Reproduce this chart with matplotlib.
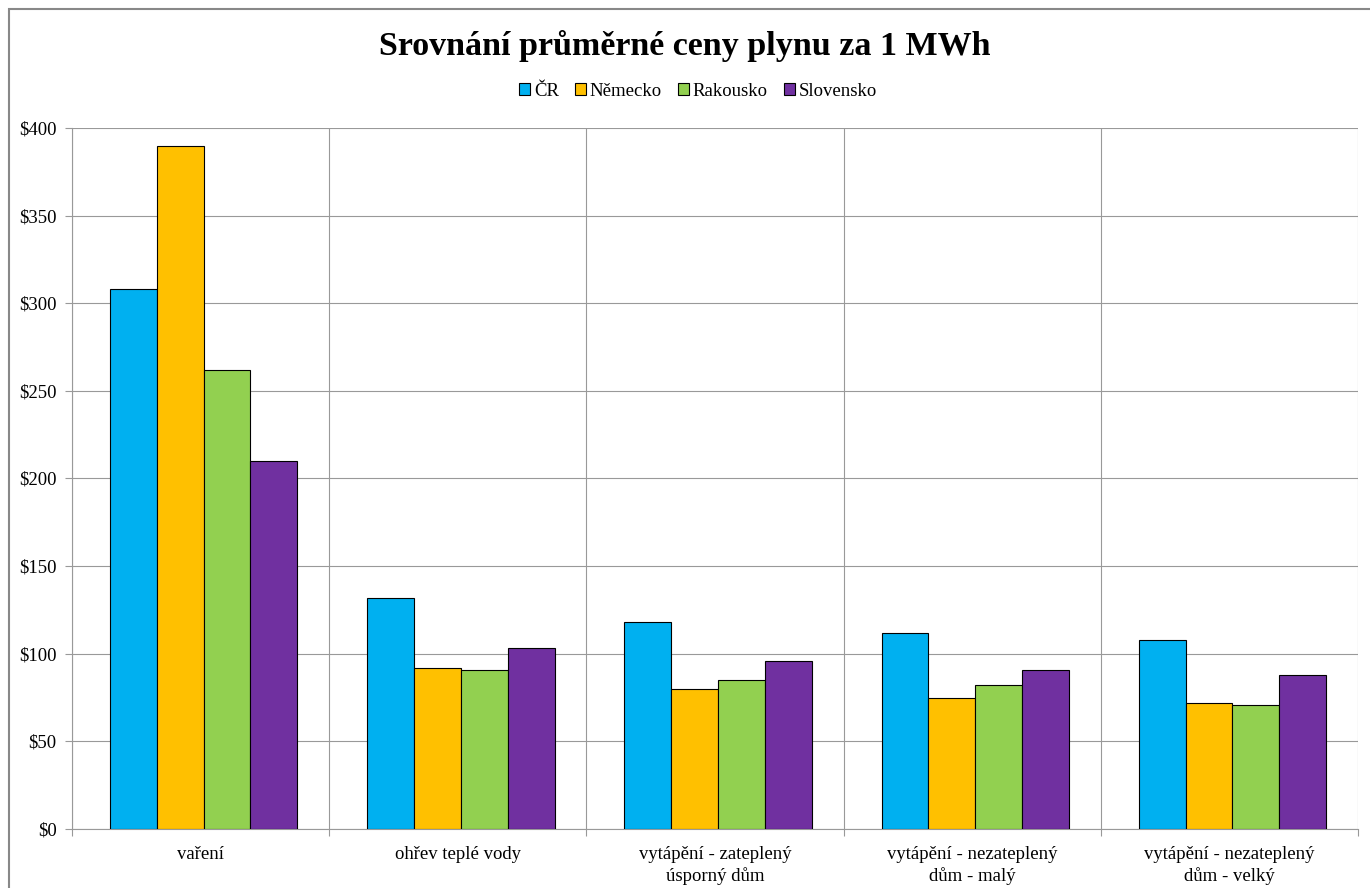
import matplotlib.pyplot as plt
import numpy as np
from matplotlib.patches import Rectangle

categories = ['vaření', 'ohřev teplé vody', 'vytápění - zateplený\núsporný dům',
              'vytápění - nezateplený\ndům - malý', 'vytápění - nezateplený\ndům - velký']
countries = ['ČR', 'Německo', 'Rakousko', 'Slovensko']
cr = [308, 132, 118, 112, 108]
nemecko = [390, 92, 80, 75, 72]
rakousko = [262, 91, 85, 82, 71]
slovensko = [210, 103, 96, 91, 88]
colors = ['#00b0f0', '#ffc000', '#92d050', '#7030a0']

plt.rcParams['font.family'] = ['Liberation Serif', 'DejaVu Serif']

fig = plt.figure(figsize=(13.7, 8.88), dpi=100)
ax = fig.add_axes([72/1370, 1 - 829/888, (1358-72)/1370, (829-128)/888])

# outer chart border (right and bottom run off the picture)
fig.patches.append(Rectangle((8.5/1370, -0.01), 1.0, 1 - 8.5/888 + 0.01,
                             transform=fig.transFigure, fill=False,
                             edgecolor='#888888', lw=1.5))

x = np.arange(len(categories)) + 0.012
w = 0.182
for i, (vals, c) in enumerate(zip([cr, nemecko, rakousko, slovensko], colors)):
    ax.bar(x + (i - 1.5) * w, vals, w, color=c, edgecolor='black', lw=0.8,
           label=countries[i], zorder=3)

ax.set_xlim(-0.5, len(categories) - 0.5)
ax.set_ylim(0, 400)
ax.set_yticks(range(0, 401, 50))
ax.set_yticklabels(['$%d' % v for v in range(0, 401, 50)], fontsize=13.5)
ax.yaxis.grid(True, color='#999999', lw=0.8, zorder=0)

# category separators
ax.set_xticks(np.arange(-0.5, len(categories), 1))
ax.set_xticklabels([])
ax.set_xticks(np.arange(len(categories)), minor=True)
ax.set_xticklabels(categories, minor=True, fontsize=13.5, linespacing=1.3)
ax.tick_params(axis='x', which='minor', length=0, pad=12)
ax.tick_params(axis='x', which='major', length=5, color='#999999')
ax.tick_params(axis='y', length=5, color='#999999', pad=6)
ax.xaxis.grid(True, which='major', color='#999999', lw=0.8, zorder=0)
for s in ['top', 'right']:
    ax.spines[s].set_visible(False)
for s in ['left', 'bottom']:
    ax.spines[s].set_color('#999999')

fig.text(0.5, 1 - 46/888, 'Srovnání průměrné ceny plynu za 1 MWh', ha='center',
         va='center', fontsize=24.5, fontweight='bold')
fig.legend(loc='center', bbox_to_anchor=(0.5 + 13/1370, 1 - 91/888), ncol=4,
           frameon=False, fontsize=13.5, handlelength=0.6, handleheight=0.6,
           handletextpad=0.2, columnspacing=0.85)

fig.savefig('out.png', dpi=100)
